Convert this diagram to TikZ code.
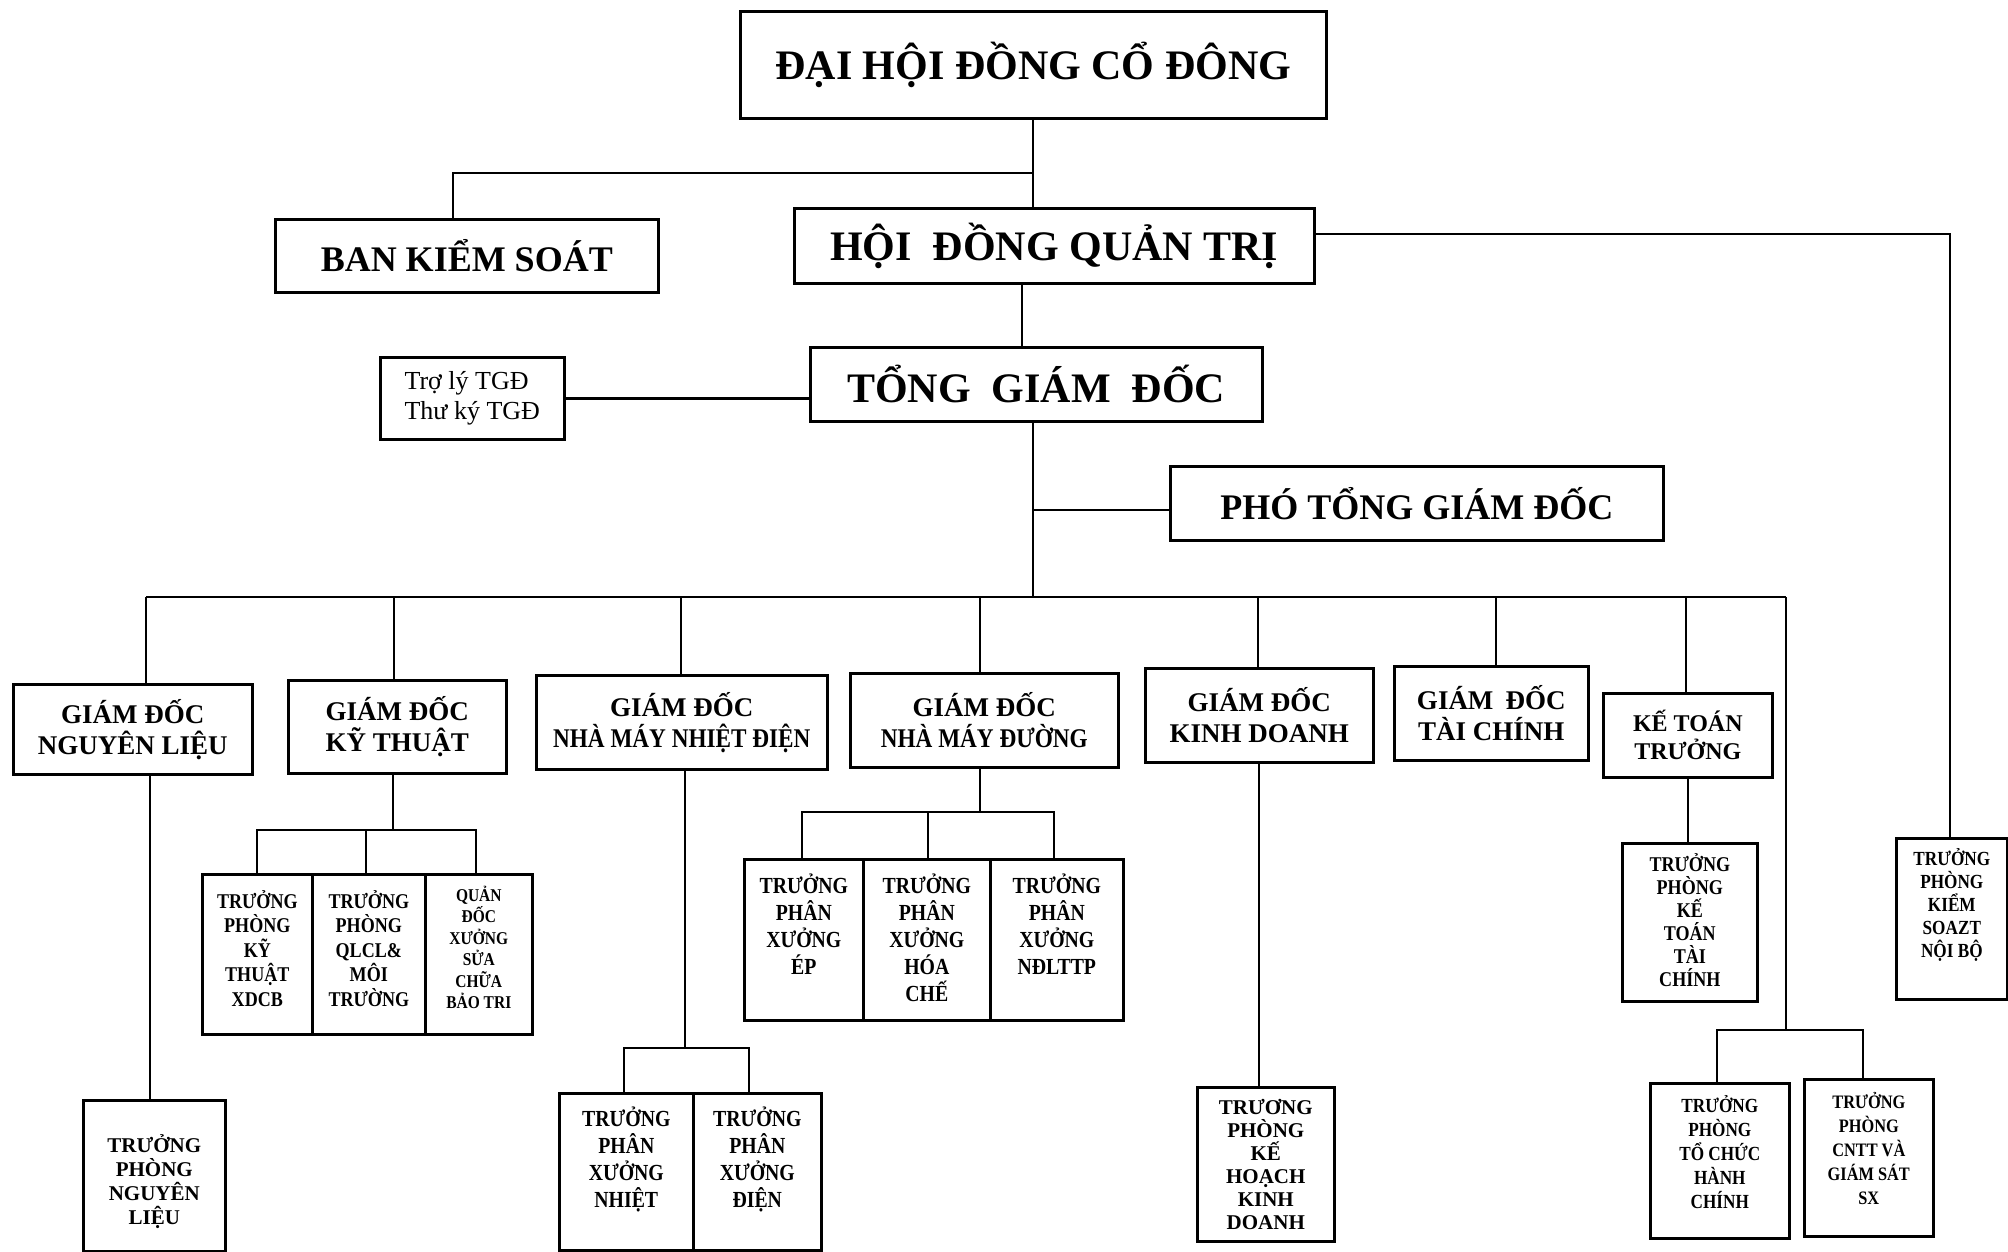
\documentclass[tikz,border=0pt]{standalone}
\usepackage{fontspec}
\usepackage{graphicx}
\setmainfont{Liberation Serif}
\newfontfamily\cnd[FakeStretch=0.86]{Liberation Serif}
\newcommand\fs[2]{\fontsize{#1}{#2}\selectfont}
\newcommand\bxc[3]{\parbox[c][#2pt][c]{#1pt}{\centering #3\par}}
\newcommand\bxt[5]{\parbox[c][#2pt][t]{#1pt}{\centering #4\vspace*{#3pt}\rule{0pt}{.95em}#5\par}}
\tikzset{
  bx/.style={draw, line width=2.6pt, inner sep=0pt, anchor=north west, font=\bfseries},
  ln/.style={line width=2.6pt}
}
\begin{document}
\begin{tikzpicture}[x=1pt,y=-1pt]
\useasboundingbox (0,0) rectangle (2008,1252);
\fill[white] (0,0) rectangle (2008,1252);

% top level
\node[bx] (dh) at (739,10) {\bxc{586}{107}{\fs{42}{48}ĐẠI HỘI ĐỒNG CỔ ĐÔNG}};
\node[bx] (bks) at (274,218) {\bxc{383}{73}{\fs{36}{40}BAN KIỂM SOÁT}};
\node[bx] (hdqt) at (793,207) {\bxc{520}{75}{\fs{42}{48}HỘI\hspace{.25em} ĐỒNG QUẢN TRỊ}};
\node[bx, font=\mdseries] (tl) at (379,356) {\bxc{184}{82}{\fs{26}{30}\begin{tabular}{@{}l@{}}Trợ lý TGĐ\\Thư ký TGĐ\end{tabular}}};
\node[bx] (tgd) at (809,346) {\bxc{452}{74}{\fs{42}{48}TỔNG\hspace{.25em} GIÁM\hspace{.25em} ĐỐC}};
\node[bx] (ptgd) at (1169,465) {\bxc{493}{74}{\fs{36}{40}PHÓ TỔNG GIÁM ĐỐC}};

% directors
\node[bx] (gnl) at (12,683) {\bxc{239}{90}{\fs{27}{31}GIÁM ĐỐC\\NGUYÊN LIỆU}};
\node[bx] (gkt) at (287,679) {\bxc{218}{93}{\fs{27}{31}GIÁM ĐỐC\\KỸ THUẬT}};
\node[bx] (gnd) at (535,674) {\bxc{291}{94}{\fs{27}{31}GIÁM ĐỐC\\{\cnd\bfseries NHÀ MÁY NHIỆT ĐIỆN}}};
\node[bx] (gnmd) at (849,672) {\bxc{268}{94}{\fs{27}{31}GIÁM ĐỐC\\{\cnd\bfseries NHÀ MÁY ĐƯỜNG}}};
\node[bx] (gkd) at (1144,667) {\bxc{228}{94}{\fs{27}{31}GIÁM ĐỐC\\KINH DOANH}};
\node[bx] (gtc) at (1393,665) {\bxc{194}{94}{\fs{27}{31}GIÁM\hspace{.2em} ĐỐC\\TÀI CHÍNH}};
\node[bx] (ktt) at (1602,692) {\bxc{169}{84}{\fs{24}{28}KẾ TOÁN\\TRƯỞNG}};

% sub units
\node[bx] (kt1) at (201,873) {\bxt{110}{160}{14}{\cnd\bfseries\fs{21}{24.5}}{TRƯỞNG\\PHÒNG\\KỸ\\THUẬT\\XDCB}};
\node[bx] (kt2) at (311,873) {\bxt{113}{160}{14}{\cnd\bfseries\fs{21}{24.5}}{TRƯỞNG\\PHÒNG\\QLCL\&\\MÔI\\TRƯỜNG}};
\node[bx] (kt3) at (424,873) {\bxt{107}{160}{10}{\cnd\bfseries\fs{18}{21.5}}{QUẢN\\ĐỐC\\XƯỞNG\\SỬA\\CHỮA\\BẢO TRI}};

\node[bx] (nd1) at (558,1092) {\bxt{134}{157}{11}{\cnd\bfseries\fs{23}{27}}{TRƯỞNG\\PHÂN\\XƯỞNG\\NHIỆT}};
\node[bx] (nd2) at (692,1092) {\bxt{128}{157}{11}{\cnd\bfseries\fs{23}{27}}{TRƯỞNG\\PHÂN\\XƯỞNG\\ĐIỆN}};

\node[bx] (nm1) at (743,858) {\bxt{119}{161}{12}{\cnd\bfseries\fs{23}{27}}{TRƯỞNG\\PHÂN\\XƯỞNG\\ÉP}};
\node[bx] (nm2) at (862,858) {\bxt{127}{161}{12}{\cnd\bfseries\fs{23}{27}}{TRƯỞNG\\PHÂN\\XƯỞNG\\HÓA\\CHẾ}};
\node[bx] (nm3) at (989,858) {\bxt{133}{161}{12}{\cnd\bfseries\fs{23}{27}}{TRƯỞNG\\PHÂN\\XƯỞNG\\NĐLTTP}};

\node[bx] (kd1) at (1196,1086) {\bxt{137}{154}{7}{\fs{21}{23}}{TRƯƠNG\\PHÒNG\\KẾ\\HOẠCH\\KINH\\DOANH}};
\node[bx] (kttc) at (1621,842) {\bxt{135}{158}{8}{\cnd\bfseries\fs{21}{23}}{TRƯỞNG\\PHÒNG\\KẾ\\TOÁN\\TÀI\\CHÍNH}};
\node[bx] (tc1) at (1649,1082) {\bxt{139}{155}{10}{\cnd\bfseries\fs{20}{24}}{TRƯỞNG\\PHÒNG\\TỔ CHỨC\\HÀNH\\CHÍNH}};
\node[bx] (tc2) at (1803,1078) {\bxt{129}{157}{11}{\cnd\bfseries\fs{19}{24}}{TRƯỞNG\\PHÒNG\\CNTT VÀ\\GIÁM SÁT\\SX}};
\node[bx] (ksnb) at (1895,837) {\bxt{111}{161}{8}{\cnd\bfseries\fs{20}{23}}{TRƯỞNG\\PHÒNG\\KIỂM\\SOAZT\\NỘI BỘ}};
\node[bx] (nl1) at (82,1099) {\bxt{142}{151}{32}{\fs{21}{24}}{TRƯỞNG\\PHÒNG\\NGUYÊN\\LIỆU}};

% junction coordinates
\coordinate (j1) at (1033,173);
\coordinate (j2) at (1033,510);
\coordinate (busL) at (146,597);
\coordinate (busM) at (1033,597);
\coordinate (busR) at (1786,597);
\coordinate (jkt) at (393,830);
\coordinate (jnd) at (685,1048);
\coordinate (jnm) at (980,812);
\coordinate (jtc) at (1786,1030);

% upper connectors
\draw[ln] (1033,0 |- dh.south) -- (1033,0 |- hdqt.north);
\draw[ln] (j1) -| (453,0 |- bks.north);
\draw[ln] (1022,0 |- hdqt.south) -- (1022,0 |- tgd.north);
\draw[ln] (hdqt.east |- 0,234) -| (1950,0 |- ksnb.north);
\draw[ln] (tl.east) -- (tl.east -| tgd.west);
\draw[ln] (1033,0 |- tgd.south) -- (busM);
\draw[ln] (j2) -- (j2 -| ptgd.west);

% bus
\draw[ln] (busL) -- (busR);
\draw[ln] (busL) -- (146,0 |- gnl.north);
\draw[ln] (394,597) -- (394,0 |- gkt.north);
\draw[ln] (681,597) -- (681,0 |- gnd.north);
\draw[ln] (980,597) -- (980,0 |- gnmd.north);
\draw[ln] (1258,597) -- (1258,0 |- gkd.north);
\draw[ln] (1496,597) -- (1496,0 |- gtc.north);
\draw[ln] (1686,597) -- (1686,0 |- ktt.north);
\draw[ln] (busR) -- (jtc);

% lower connectors
\draw[ln] (150,0 |- gnl.south) -- (150,0 |- nl1.north);
\draw[ln] (393,0 |- gkt.south) -- (jkt);
\draw[ln] (257,0 |- kt1.north) |- (476,830) -- (476,0 |- kt3.north);
\draw[ln] (366,830) -- (366,0 |- kt2.north);
\draw[ln] (685,0 |- gnd.south) -- (jnd);
\draw[ln] (624,0 |- nd1.north) |- (749,1048) -- (749,0 |- nd2.north);
\draw[ln] (980,0 |- gnmd.south) -- (jnm);
\draw[ln] (802,0 |- nm1.north) |- (1054,812) -- (1054,0 |- nm3.north);
\draw[ln] (928,812) -- (928,0 |- nm2.north);
\draw[ln] (1259,0 |- gkd.south) -- (1259,0 |- kd1.north);
\draw[ln] (1688,0 |- ktt.south) -- (1688,0 |- kttc.north);
\draw[ln] (1717,0 |- tc1.north) |- (1863,1030) -- (1863,0 |- tc2.north);
\end{tikzpicture}
\end{document}
